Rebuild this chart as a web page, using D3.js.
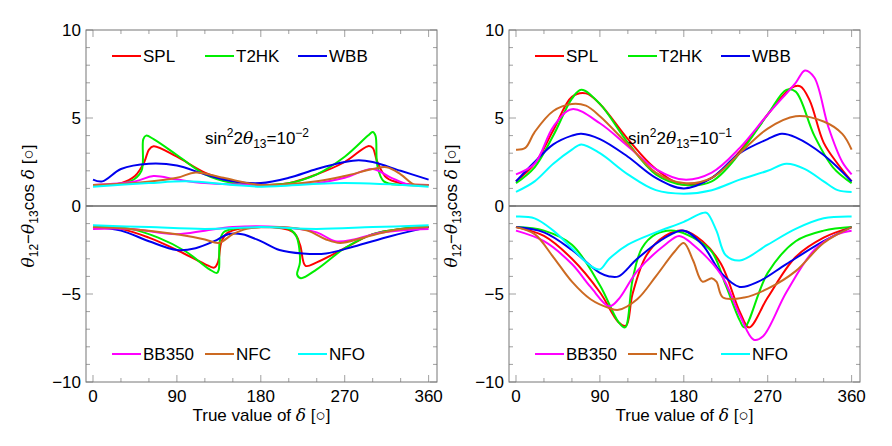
<!DOCTYPE html>
<html><head><meta charset="utf-8">
<script src="https://cdn.jsdelivr.net/npm/d3@7"></script>
<style>body{margin:0;background:#fff}text{font-family:"Liberation Sans",Arial,sans-serif}</style>
</head><body><svg id="c" width="892" height="446"></svg>
<script>
const xTicks=[0,90,180,270,360];
const yTicks=[-10,-5,0,5,10];
const seriesNames=["SPL","T2HK","WBB","BB350","NFC","NFO"];
const seriesColors=["#ff0000","#00ee00","#0000ee","#ff00ff","#cc6a22","#00ffff"];
// Left panel (sin^2 2θ13 = 1e-2), [δ, value]
const L_SPL_up=[[0,1.2],[30,1.3],[45,1.7],[55,2.5],[60,3.2],[65,3.4],[90,2.8],[120,1.9],[150,1.4],[180,1.2],[210,1.3],[240,1.8],[270,2.5],[295,3.4],[300,3.3],[305,2.5],[315,1.6],[330,1.3],[360,1.2]];
const L_T2HK_up=[[0,1.2],[40,1.4],[52,2.0],[54,3.8],[57,4.0],[65,3.8],[90,2.9],[120,1.8],[150,1.3],[180,1.2],[210,1.3],[240,1.8],[270,2.8],[295,4.0],[300,4.2],[303,4.0],[305,2.3],[312,1.4],[330,1.2],[360,1.2]];
const L_WBB_up=[[0,1.5],[10,1.4],[30,2.1],[60,2.4],[90,2.3],[120,1.8],[150,1.4],[180,1.3],[210,1.6],[240,2.1],[270,2.5],[285,2.6],[300,2.5],[330,2.0],[360,1.5]];
const L_BB_up=[[0,1.2],[45,1.4],[65,1.7],[90,1.5],[120,1.3],[180,1.2],[240,1.3],[270,1.6],[300,2.1],[320,1.6],[340,1.2],[360,1.2]];
const L_NFC_up=[[0,1.2],[45,1.3],[90,1.6],[110,1.9],[140,1.6],[180,1.2],[240,1.4],[270,1.7],[300,2.1],[315,2.2],[330,1.8],[345,1.2],[360,1.2]];
const L_NFO_up=[[0,1.1],[60,1.3],[100,1.4],[150,1.2],[180,1.1],[270,1.3],[360,1.1]];
const L_SPL_lo=[[0,-1.2],[30,-1.3],[60,-1.8],[90,-2.5],[120,-3.3],[130,-3.5],[134,-3.2],[138,-2.0],[145,-1.5],[180,-1.2],[215,-1.5],[222,-2.2],[228,-3.4],[240,-3.2],[270,-2.4],[300,-1.6],[330,-1.3],[360,-1.2]];
const L_T2HK_lo=[[0,-1.2],[40,-1.3],[70,-1.8],[100,-2.6],[125,-3.6],[133,-3.8],[135,-3.6],[136,-2.0],[140,-1.5],[150,-1.3],[180,-1.2],[210,-1.3],[218,-1.7],[222,-3.2],[219,-3.9],[223,-4.1],[240,-3.6],[270,-2.4],[300,-1.6],[330,-1.3],[360,-1.2]];
const L_WBB_lo=[[0,-1.2],[30,-1.4],[60,-2.0],[90,-2.5],[110,-2.4],[130,-2.0],[145,-1.6],[160,-1.6],[180,-2.0],[200,-2.5],[225,-2.7],[250,-2.7],[280,-2.3],[320,-1.7],[360,-1.2]];
const L_BB_lo=[[0,-1.3],[40,-1.3],[90,-1.6],[120,-1.4],[150,-1.2],[200,-1.2],[240,-1.5],[260,-2.0],[280,-1.9],[310,-1.5],[360,-1.3]];
const L_NFC_lo=[[0,-1.2],[40,-1.3],[90,-1.6],[120,-1.9],[135,-2.1],[150,-1.6],[165,-1.3],[200,-1.2],[230,-1.4],[250,-1.9],[265,-2.1],[290,-1.8],[320,-1.4],[360,-1.2]];
const L_NFO_lo=[[0,-1.1],[60,-1.2],[120,-1.3],[180,-1.2],[240,-1.3],[300,-1.2],[360,-1.1]];
// Right panel (sin^2 2θ13 = 1e-1)
const R_SPL_up=[[0,1.4],[20,2.4],[40,4.3],[60,6.2],[75,6.4],[90,5.8],[120,3.8],[150,2.1],[180,1.2],[210,1.6],[240,3.1],[270,5.2],[295,6.7],[305,6.8],[315,6.0],[330,3.6],[345,2.4],[360,1.4]];
const R_T2HK_up=[[0,1.3],[20,2.2],[40,4.0],[60,6.1],[70,6.6],[90,5.8],[120,3.6],[150,1.8],[180,1.2],[210,1.4],[240,3.0],[270,5.2],[290,6.6],[300,6.5],[320,4.0],[340,2.2],[360,1.3]];
const R_WBB_up=[[0,1.4],[20,2.5],[40,3.5],[60,4.0],[70,4.1],[90,3.8],[120,2.8],[150,1.6],[180,1.0],[210,1.6],[240,3.0],[270,3.8],[285,4.1],[300,3.9],[330,2.9],[360,1.4]];
const R_BB_up=[[0,1.8],[20,2.4],[40,4.5],[60,5.5],[90,4.7],[120,3.4],[150,2.1],[180,1.5],[210,1.9],[240,3.3],[270,5.2],[300,7.0],[310,7.7],[320,7.3],[335,4.5],[350,2.5],[360,1.8]];
const R_NFC_up=[[0,3.2],[10,3.3],[20,4.2],[40,5.4],[60,5.8],[75,5.7],[90,5.1],[120,3.5],[150,1.9],[180,1.3],[210,1.6],[240,3.0],[270,4.4],[300,5.1],[330,4.8],[350,4.1],[360,3.2]];
const R_NFO_up=[[0,0.8],[20,1.4],[40,2.4],[60,3.2],[70,3.5],[90,3.0],[120,1.8],[150,0.9],[180,0.7],[210,0.9],[240,1.5],[270,2.0],[290,2.4],[310,2.1],[330,1.4],[345,0.9],[360,0.8]];
const R_SPL_lo=[[0,-1.2],[30,-1.7],[60,-3.0],[90,-4.9],[110,-6.6],[118,-6.8],[125,-5.0],[140,-2.8],[160,-1.7],[180,-1.4],[200,-2.0],[220,-3.3],[240,-6.0],[250,-6.9],[270,-5.2],[300,-2.9],[330,-1.8],[360,-1.2]];
const R_T2HK_lo=[[0,-1.2],[30,-1.4],[60,-2.2],[90,-4.5],[110,-6.6],[117,-6.9],[125,-4.2],[135,-2.4],[150,-1.6],[170,-1.4],[190,-1.8],[210,-2.6],[225,-4.5],[240,-6.5],[245,-6.9],[270,-3.8],[300,-2.0],[330,-1.4],[360,-1.2]];
const R_WBB_lo=[[0,-1.2],[30,-1.5],[60,-2.5],[90,-3.8],[100,-4.0],[110,-4.0],[130,-3.0],[160,-1.8],[180,-1.4],[200,-2.2],[220,-3.8],[240,-4.6],[260,-4.3],[290,-3.3],[330,-2.0],[360,-1.2]];
const R_BB_lo=[[0,-1.4],[30,-2.0],[60,-3.3],[80,-4.6],[100,-5.7],[110,-5.3],[130,-3.7],[160,-2.2],[175,-1.7],[190,-2.2],[220,-3.9],[240,-6.2],[255,-7.6],[265,-7.4],[290,-4.9],[320,-2.5],[345,-1.6],[360,-1.4]];
const R_NFC_lo=[[0,-1.2],[20,-1.6],[40,-2.9],[60,-4.3],[80,-5.3],[100,-5.8],[110,-5.9],[130,-5.3],[150,-4.0],[170,-2.6],[180,-2.1],[190,-3.1],[200,-4.3],[210,-4.1],[215,-4.3],[222,-5.2],[245,-5.2],[270,-4.7],[300,-3.7],[330,-2.1],[360,-1.2]];
const R_NFO_lo=[[0,-0.6],[20,-0.7],[40,-1.4],[60,-2.4],[80,-3.4],[90,-3.6],[100,-3.0],[120,-2.2],[150,-1.5],[180,-0.9],[200,-0.4],[205,-0.4],[215,-1.4],[225,-2.8],[240,-3.1],[270,-2.2],[300,-1.3],[330,-0.7],[360,-0.6]];

const leftSeries=[[L_SPL_up,L_SPL_lo],[L_T2HK_up,L_T2HK_lo],[L_WBB_up,L_WBB_lo],[L_BB_up,L_BB_lo],[L_NFC_up,L_NFC_lo],[L_NFO_up,L_NFO_lo]];
const rightSeries=[[R_SPL_up,R_SPL_lo],[R_T2HK_up,R_T2HK_lo],[R_WBB_up,R_WBB_lo],[R_BB_up,R_BB_lo],[R_NFC_up,R_NFC_lo],[R_NFO_up,R_NFO_lo]];

const svg=d3.select("#c");
function panel(x0,series,exp){
  const fl=x0, fr=x0+351, ft=30, fb=382;
  const x=d3.scaleLinear().domain([-7.5,369]).range([fl,fr]);
  const y=d3.scaleLinear().domain([-10,10]).range([fb,ft]);
  const g=svg.append("g");
  // ticks
  const tk=g.append("g").attr("stroke","#888").attr("stroke-width",0.8);
  d3.range(-10,10.01,1).forEach(v=>{const L=v%5===0?7:4;
    tk.append("line").attr("x1",fl).attr("x2",fl+L).attr("y1",y(v)).attr("y2",y(v));
    tk.append("line").attr("x1",fr).attr("x2",fr-L).attr("y1",y(v)).attr("y2",y(v));});
  d3.range(0,361,30).forEach(v=>{const L=v%90===0?7:4;
    tk.append("line").attr("x1",x(v)).attr("x2",x(v)).attr("y1",fb).attr("y2",fb-L);
    tk.append("line").attr("x1",x(v)).attr("x2",x(v)).attr("y1",ft).attr("y2",ft+L);});
  g.append("line").attr("x1",fl).attr("x2",fr).attr("y1",y(0)).attr("y2",y(0)).attr("stroke","#666").attr("stroke-width",1.5);
  const line=d3.line().x(d=>x(d[0])).y(d=>y(d[1])).curve(d3.curveCatmullRom.alpha(0.5));
  series.forEach((pr,i)=>pr.forEach(arr=>g.append("path").attr("d",line(arr)).attr("fill","none").attr("stroke",seriesColors[i]).attr("stroke-width",2)));
  g.append("rect").attr("x",fl).attr("y",ft).attr("width",fr-fl).attr("height",fb-ft).attr("fill","none").attr("stroke","#777").attr("stroke-width",1);
  yTicks.forEach(v=>g.append("text").attr("x",fl-5).attr("y",y(v)+6).attr("text-anchor","end").attr("font-size",17).text(v<0?"\u2212"+(-v):v));
  xTicks.forEach(v=>g.append("text").attr("x",x(v)).attr("y",402).attr("text-anchor","middle").attr("font-size",17).text(v));
  g.append("text").attr("x",(fl+fr)/2).attr("y",421).attr("text-anchor","middle").attr("font-size",17)
   .html('True value of <tspan font-family="DejaVu Serif" font-style="italic">δ</tspan> [○]');
  g.append("text").attr("transform",`translate(${fl-52},${y(0)}) rotate(-90)`).attr("text-anchor","middle").attr("font-size",17)
   .html('<tspan font-family="DejaVu Serif" font-style="italic">θ</tspan><tspan font-size="12" dy="4">12</tspan><tspan dy="-4">−</tspan><tspan font-family="DejaVu Serif" font-style="italic">θ</tspan><tspan font-size="12" dy="4">13</tspan><tspan dy="-4">cos </tspan><tspan font-family="DejaVu Serif" font-style="italic">δ</tspan> [○]');
  // legend
  const lx=[fl+26,fl+119,fl+212];
  seriesNames.forEach((n,i)=>{const col=i%3, ly=i<3?56:354;
    g.append("line").attr("x1",lx[col]).attr("x2",lx[col]+29).attr("y1",ly).attr("y2",ly).attr("stroke",seriesColors[i]).attr("stroke-width",2);
    g.append("text").attr("x",lx[col]+31).attr("y",ly+6).attr("font-size",17).text(n);});
  g.append("text").attr("x",fl+119).attr("y",144).attr("font-size",17)
   .html(`sin<tspan font-size="12" dy="-7">2</tspan><tspan dy="7">2</tspan><tspan font-family="DejaVu Serif" font-style="italic">θ</tspan><tspan font-size="12" dy="4">13</tspan><tspan dy="-4">=10</tspan><tspan font-size="12" dy="-7">−${exp}</tspan>`);
}
panel(86,leftSeries,2);
panel(509,rightSeries,1);
</script></body></html>
